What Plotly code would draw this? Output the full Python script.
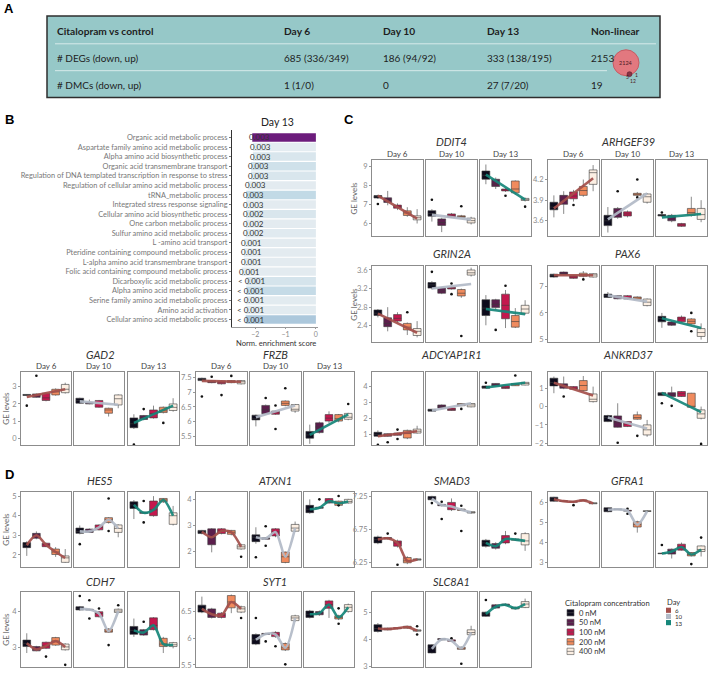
import plotly.graph_objects as go

W, H = 708, 674

# ---------------- panel A: summary table ----------------
TABLE_HEADER = ["Citalopram vs control", "Day 6", "Day 10", "Day 13", "Non-linear"]
TABLE_DEGS = ["# DEGs (down, up)", "685 (336/349)", "186 (94/92)", "333 (138/195)", "2153"]
TABLE_DMCS = ["# DMCs (down, up)", "1 (1/0)", "0", "27 (7/20)", "19"]
VENN_LABELS = ["2124", "5", "1", "12"]

# ---------------- panel B: GO enrichment, day 13 ----------------
GO_TERMS = [
    "Organic acid metabolic process",
    "Aspartate family amino acid metabolic process",
    "Alpha amino acid biosynthetic process",
    "Organic acid transmembrane transport",
    "Regulation of DNA templated transcription in response to stress",
    "Regulation of cellular amino acid metabolic process",
    "tRNA_metabolic process",
    "Integrated stress response signaling",
    "Cellular amino acid biosynthetic process",
    "One carbon metabolic process",
    "Sulfur amino acid metabolic process",
    "L -amino acid transport",
    "Pteridine containing compound metabolic process",
    "L-alpha amino acid transmembrane transport",
    "Folic acid containing compound metabolic process",
    "Dicarboxylic acid metabolic process",
    "Alpha amino acid metabolic process",
    "Serine family amino acid metabolic process",
    "Amino acid activation",
    "Cellular amino acid metabolic process",
]
NES = [-2.10, -2.08, -2.08, -2.14, -2.14, -2.25, -2.30, -2.30, -2.30, -2.32,
       -2.32, -2.36, -2.38, -2.38, -2.45, -2.29, -2.30, -2.32, -2.32, -2.32]
PADJ = ["0.003"] * 8 + ["0.002"] * 3 + ["0.001"] * 4 + ["&lt; 0.001"] * 5
TERM_SCORE = [1.0, 0.03, 0.12, 0.2, 0.12, 0.04, 0.3, 0.04, 0.12, 0.04,
              0.06, 0.04, 0.04, 0.04, 0.04, 0.15, 0.28, 0.05, 0.05, 0.42]

# ---------------- panels C / D: gene expression boxes ----------------
CONCS = ["0 nM", "50 nM", "100 nM", "200 nM", "400 nM"]
DAYS = ["Day 6", "Day 10", "Day 13"]
DAY_KEYS = ["6", "10", "13"]

# each gene: day -> concentration -> [lower whisker, q1, median, q3, upper whisker]
DDIT4 = [
    [[7.28, 7.33, 7.40, 7.46, 7.50], [6.95, 7.10, 7.24, 7.34, 7.70], [6.70, 6.80, 6.88, 6.96, 7.05], [6.35, 6.42, 6.55, 6.66, 6.85], [6.00, 6.19, 6.30, 6.40, 6.75]],
    [[6.10, 6.38, 6.52, 6.67, 6.75], [5.55, 5.90, 6.05, 6.24, 6.30], [6.30, 6.33, 6.43, 6.50, 6.55], [6.30, 6.32, 6.36, 6.40, 6.45], [5.95, 6.03, 6.15, 6.28, 6.35]],
    [[8.05, 8.31, 8.52, 8.74, 9.08], [7.80, 7.93, 8.05, 8.31, 8.40], [7.65, 7.70, 7.76, 7.80, 7.85], [7.50, 7.60, 7.80, 8.22, 8.25], [7.15, 7.20, 7.27, 7.31, 7.35]],
]
DDIT4_OUT = [(0, 0, 7.02), (1, 0, 7.24), (1, 3, 6.90), (2, 2, 7.45), (2, 4, 6.88)]
DDIT4_FIT = [[7.45, 6.25], [6.45, 6.20], [8.55, 7.25]]

ARHGEF39 = [
    [[3.65, 3.76, 3.80, 3.87, 3.97], [3.70, 3.84, 3.90, 3.97, 4.03], [3.88, 3.92, 3.96, 4.02, 4.05], [3.95, 3.97, 4.04, 4.10, 4.20], [4.03, 4.13, 4.30, 4.34, 4.41]],
    [[3.43, 3.53, 3.60, 3.68, 3.80], [3.63, 3.65, 3.73, 3.78, 3.80], [3.65, 3.67, 3.70, 3.73, 3.75], [3.96, 3.97, 3.99, 4.00, 4.02], [3.85, 3.87, 3.95, 3.99, 4.00]],
    [[3.66, 3.67, 3.68, 3.69, 3.70], [3.58, 3.60, 3.65, 3.68, 3.70], [3.51, 3.52, 3.54, 3.56, 3.57], [3.66, 3.68, 3.72, 3.78, 3.95], [3.58, 3.62, 3.69, 3.78, 3.90]],
]
ARHGEF39_OUT = [(0, 2, 3.83), (1, 1, 4.03), (1, 3, 4.20), (1, 3, 3.94), (2, 0, 3.72)]
ARHGEF39_FIT = [[3.78, 4.22], [3.62, 4.00], [3.65, 3.70]]

GRIN2A = [
    [[2.58, 2.62, 2.67, 2.74, 2.76], [2.28, 2.38, 2.45, 2.57, 2.80], [2.45, 2.50, 2.56, 2.64, 2.69], [2.20, 2.31, 2.37, 2.45, 2.47], [2.15, 2.19, 2.28, 2.34, 2.50]],
    [[3.18, 3.21, 3.28, 3.33, 3.36], [3.08, 3.10, 3.15, 3.21, 3.23], [3.18, 3.19, 3.21, 3.23, 3.25], [3.00, 3.04, 3.10, 3.18, 3.20], [3.46, 3.49, 3.54, 3.60, 3.65]],
    [[2.41, 2.62, 2.78, 2.96, 3.06], [2.75, 2.79, 2.86, 2.96, 2.98], [2.35, 2.55, 2.84, 3.08, 3.17], [2.35, 2.37, 2.49, 2.62, 2.78], [2.64, 2.67, 2.76, 2.84, 2.95]],
]
GRIN2A_OUT = [(0, 3, 2.69), (1, 0, 3.56), (1, 2, 3.31), (1, 2, 3.08), (1, 3, 2.18), (2, 1, 2.31), (2, 2, 3.26)]
GRIN2A_FIT = [[2.66, 2.25], [3.20, 3.30], [2.76, 2.65]]

PAX6 = [
    [[7.35, 7.37, 7.43, 7.48, 7.50], [7.43, 7.45, 7.50, 7.56, 7.58], [7.30, 7.32, 7.37, 7.42, 7.44], [7.35, 7.40, 7.46, 7.52, 7.60], [7.35, 7.37, 7.45, 7.50, 7.52]],
    [[6.57, 6.59, 6.66, 6.72, 6.80], [6.52, 6.54, 6.60, 6.66, 6.68], [6.51, 6.53, 6.58, 6.66, 6.68], [6.50, 6.52, 6.57, 6.61, 6.63], [6.25, 6.28, 6.41, 6.53, 6.55]],
    [[5.43, 5.66, 5.78, 5.87, 6.00], [5.50, 5.53, 5.58, 5.65, 5.68], [5.64, 5.66, 5.77, 5.84, 5.90], [5.55, 5.58, 5.68, 5.77, 5.80], [4.98, 5.10, 5.25, 5.40, 5.60]],
]
PAX6_OUT = [(0, 3, 7.28), (2, 3, 6.00), (2, 3, 5.30)]
PAX6_FIT = [[7.44, 7.44], [6.67, 6.43], [5.80, 5.42]]

ADCYAP1R1 = [
    [[0.85, 0.88, 1.00, 1.13, 1.25], [0.85, 0.88, 0.92, 1.04, 1.06], [0.92, 0.94, 1.00, 1.08, 1.10], [0.70, 0.77, 1.05, 1.25, 1.30], [1.05, 1.08, 1.20, 1.33, 1.54]],
    [[2.44, 2.46, 2.52, 2.58, 2.60], [2.60, 2.65, 2.75, 2.85, 2.88], [2.48, 2.50, 2.55, 2.65, 2.67], [2.78, 2.80, 2.88, 2.94, 2.96], [2.70, 2.73, 2.85, 2.94, 2.97]],
    [[3.88, 3.90, 3.95, 4.04, 4.06], [4.02, 4.04, 4.10, 4.20, 4.22], [3.86, 3.88, 3.95, 4.06, 4.08], [4.04, 4.06, 4.15, 4.20, 4.22], [4.08, 4.10, 4.20, 4.27, 4.30]],
]
ADCYAP1R1_OUT = [(0, 0, 0.35), (0, 1, 0.50), (0, 2, 1.30), (0, 2, 0.71), (1, 3, 2.60), (2, 0, 4.25), (2, 3, 4.70)]
ADCYAP1R1_FIT = [[0.88, 1.20], [2.50, 2.95], [3.95, 4.25]]

ANKRD37 = [
    [[0.73, 1.13, 1.31, 1.55, 1.64], [0.95, 1.00, 1.10, 1.24, 1.64], [0.92, 0.95, 1.00, 1.09, 1.12], [0.85, 0.87, 1.15, 1.42, 1.67], [0.22, 0.27, 0.40, 0.69, 1.09]],
    [[-0.85, -0.82, -0.60, -0.49, -0.45], [-1.15, -1.13, -0.85, -0.51, 0.18], [-1.12, -1.09, -0.95, -0.82, -0.80], [-0.72, -0.69, -0.60, -0.45, -0.27], [-1.65, -1.55, -1.27, -1.00, -0.73]],
    [[0.58, 0.60, 0.70, 0.76, 0.80], [0.52, 0.55, 0.65, 0.76, 1.09], [0.52, 0.55, 0.70, 0.82, 0.85], [-0.06, -0.04, 0.00, 0.73, 0.75], [-0.70, -0.64, -0.40, -0.18, 0.00]],
]
ANKRD37_OUT = [(0, 1, 0.55), (1, 1, -1.98), (1, 3, -1.60), (2, 0, 0.18), (2, 1, 0.04), (2, 4, -2.04)]
ANKRD37_FIT = [[1.30, 0.60], [-0.60, -1.20], [0.75, -0.30]]

GAD2 = [
    [[2.47, 2.49, 2.52, 2.55, 2.57], [2.36, 2.38, 2.48, 2.58, 2.60], [2.15, 2.20, 2.35, 2.62, 2.65], [2.48, 2.52, 2.70, 2.85, 2.90], [2.60, 2.65, 2.85, 3.13, 3.23]],
    [[2.00, 2.04, 2.20, 2.33, 2.36], [1.98, 2.00, 2.04, 2.08, 2.25], [1.78, 1.81, 2.05, 2.20, 2.23], [1.27, 1.46, 1.65, 1.75, 1.78], [1.75, 1.94, 2.30, 2.52, 2.55]],
    [[0.55, 0.62, 0.85, 1.19, 1.40], [1.05, 1.10, 1.20, 1.33, 1.36], [1.15, 1.19, 1.45, 1.65, 1.90], [1.45, 1.50, 1.60, 1.81, 1.85], [1.55, 1.62, 1.80, 2.00, 2.33]],
]
GAD2_OUT = [(0, 0, 1.90), (0, 1, 3.63), (2, 0, -0.35), (2, 1, 1.70), (2, 3, 0.90)]
GAD2_FIT = [[2.40, 2.85], [2.15, 1.95], [0.90, 1.90]]

FRZB = [
    [[7.37, 7.39, 7.43, 7.47, 7.49], [7.30, 7.32, 7.36, 7.39, 7.41], [7.26, 7.28, 7.32, 7.38, 7.40], [7.30, 7.32, 7.36, 7.39, 7.41], [7.26, 7.28, 7.35, 7.39, 7.41]],
    [[5.84, 6.06, 6.10, 6.22, 6.24], [6.24, 6.27, 6.40, 6.55, 6.58], [6.23, 6.25, 6.30, 6.36, 6.38], [6.52, 6.55, 6.62, 6.70, 6.72], [6.30, 6.36, 6.42, 6.58, 6.60]],
    [[5.25, 5.44, 5.55, 5.67, 5.90], [5.60, 5.63, 5.82, 5.96, 6.00], [5.95, 6.02, 6.12, 6.24, 6.35], [5.98, 6.02, 6.10, 6.24, 6.26], [6.05, 6.08, 6.15, 6.28, 6.30]],
]
FRZB_OUT = [(0, 0, 6.85), (0, 1, 7.52), (0, 2, 6.90), (0, 3, 7.55), (1, 1, 6.80), (1, 2, 6.55), (1, 2, 5.75), (1, 3, 7.13), (2, 4, 6.60)]
FRZB_FIT = [[7.38, 7.35], [6.15, 6.55], [5.55, 6.25]]

HES5 = [
    [[1.95, 2.37, 2.50, 2.63, 2.70], [2.80, 2.85, 3.00, 3.10, 3.20], [2.40, 2.42, 2.52, 2.60, 2.62], [1.90, 2.02, 2.15, 2.30, 2.40], [1.60, 1.62, 1.85, 1.95, 2.30]],
    [[3.05, 3.10, 3.20, 3.37, 3.50], [3.12, 3.15, 3.20, 3.32, 3.35], [3.25, 3.28, 3.40, 3.53, 3.56], [3.60, 3.65, 3.80, 3.90, 3.93], [2.90, 3.15, 3.35, 3.53, 3.56]],
    [[3.83, 4.37, 4.55, 4.71, 4.80], [4.10, 4.12, 4.15, 4.18, 4.20], [3.95, 4.00, 4.30, 4.75, 5.00], [4.65, 4.71, 4.80, 4.88, 4.90], [3.50, 3.56, 4.00, 4.15, 4.50]],
]
HES5_OUT = [(1, 0, 2.55), (1, 3, 4.88), (1, 3, 3.22), (2, 1, 4.75), (2, 1, 3.66)]

ATXN1 = [
    [[2.66, 2.69, 2.76, 2.81, 2.83], [1.97, 2.26, 2.55, 2.87, 2.90], [2.66, 2.69, 2.79, 2.87, 2.90], [2.62, 2.66, 2.74, 2.81, 2.83], [2.07, 2.10, 2.18, 2.26, 2.30]],
    [[2.30, 2.38, 2.55, 2.64, 2.93], [2.45, 2.47, 2.50, 2.53, 2.55], [2.55, 2.60, 2.75, 2.87, 2.90], [1.55, 1.58, 1.80, 1.98, 2.00], [2.75, 2.78, 2.90, 3.04, 3.15]],
    [[3.45, 3.49, 3.62, 3.77, 4.00], [3.65, 3.66, 3.68, 3.70, 3.72], [3.84, 3.86, 3.93, 4.03, 4.05], [3.75, 3.77, 3.85, 3.93, 3.95], [3.84, 3.86, 3.92, 4.00, 4.02]],
]
ATXN1_OUT = [(0, 4, 1.80), (1, 0, 1.78), (1, 1, 2.97), (1, 1, 2.22), (2, 1, 4.00), (2, 3, 4.13), (2, 3, 3.77)]

SMAD3 = [
    [[6.53, 6.55, 6.60, 6.64, 6.66], [6.60, 6.61, 6.62, 6.63, 6.64], [6.48, 6.50, 6.55, 6.58, 6.60], [6.23, 6.25, 6.28, 6.33, 6.35], [6.28, 6.29, 6.30, 6.31, 6.32]],
    [[7.19, 7.20, 7.22, 7.25, 7.26], [7.10, 7.11, 7.12, 7.13, 7.14], [7.03, 7.05, 7.10, 7.16, 7.22], [7.03, 7.04, 7.05, 7.06, 7.07], [6.99, 7.00, 7.01, 7.02, 7.03]],
    [[6.48, 6.50, 6.55, 6.59, 6.61], [6.45, 6.47, 6.50, 6.54, 6.56], [6.53, 6.55, 6.61, 6.66, 6.73], [6.58, 6.59, 6.60, 6.61, 6.62], [6.43, 6.52, 6.58, 6.69, 6.71]],
]
SMAD3_OUT = [(0, 1, 6.69), (0, 2, 6.22), (1, 0, 7.15), (1, 1, 7.17), (1, 1, 6.91), (1, 3, 7.11), (1, 3, 6.73), (2, 3, 6.69)]

GFRA1 = [
    [[6.05, 6.08, 6.18, 6.28, 6.30], [6.05, 6.06, 6.08, 6.10, 6.12], [6.02, 6.03, 6.05, 6.07, 6.09], [6.09, 6.10, 6.12, 6.14, 6.15], [5.94, 5.95, 5.97, 6.00, 6.02]],
    [[5.52, 5.55, 5.65, 5.75, 5.77], [5.64, 5.65, 5.67, 5.69, 5.70], [5.57, 5.58, 5.60, 5.62, 5.64], [4.50, 4.78, 4.90, 5.05, 5.10], [5.55, 5.56, 5.58, 5.60, 5.62]],
    [[3.43, 3.44, 3.45, 3.47, 3.48], [3.20, 3.42, 3.55, 3.67, 3.70], [3.60, 3.62, 3.78, 3.92, 4.00], [3.30, 3.33, 3.40, 3.50, 3.52], [3.30, 3.55, 3.65, 3.83, 3.85]],
]
GFRA1_OUT = [(0, 2, 5.88), (1, 2, 5.45), (1, 2, 5.70), (2, 0, 3.88), (2, 3, 2.92), (2, 4, 4.25)]

CDH7 = [
    [[2.85, 3.03, 3.12, 3.21, 3.40], [2.90, 2.91, 2.95, 3.03, 3.05], [2.96, 2.98, 3.05, 3.15, 3.17], [3.05, 3.07, 3.18, 3.28, 3.30], [2.92, 2.94, 3.02, 3.10, 3.12]],
    [[4.03, 4.05, 4.08, 4.14, 4.16], [4.04, 4.05, 4.06, 4.07, 4.08], [3.84, 3.86, 3.95, 4.00, 4.02], [3.41, 3.43, 3.46, 3.52, 3.54], [3.96, 3.98, 4.02, 4.07, 4.09]],
    [[3.30, 3.37, 3.48, 3.59, 3.81], [3.33, 3.35, 3.42, 3.50, 3.52], [3.48, 3.50, 3.62, 3.83, 3.85], [2.85, 3.03, 3.10, 3.26, 3.30], [2.98, 3.03, 3.08, 3.14, 3.16]],
]
CDH7_OUT = [(0, 2, 2.75), (0, 4, 2.52), (1, 0, 4.44), (1, 1, 4.32), (1, 1, 3.81), (1, 2, 4.09), (1, 3, 3.07), (1, 4, 4.18), (2, 1, 3.72)]

SYT1 = [
    [[6.47, 6.49, 6.55, 6.62, 6.78], [6.37, 6.39, 6.45, 6.55, 6.57], [6.37, 6.39, 6.43, 6.47, 6.49], [6.47, 6.57, 6.68, 6.80, 6.82], [6.47, 6.49, 6.55, 6.59, 6.61]],
    [[5.87, 5.89, 5.97, 6.07, 6.09], [6.06, 6.07, 6.08, 6.09, 6.10], [6.01, 6.03, 6.07, 6.11, 6.13], [5.76, 5.78, 5.82, 5.90, 5.92], [6.31, 6.33, 6.38, 6.42, 6.44]],
    [[6.37, 6.39, 6.45, 6.51, 6.53], [6.42, 6.44, 6.47, 6.50, 6.52], [6.38, 6.56, 6.63, 6.70, 6.72], [6.34, 6.36, 6.39, 6.42, 6.44], [6.48, 6.50, 6.58, 6.63, 6.65]],
]
SYT1_OUT = [(0, 4, 6.38), (1, 0, 6.38), (1, 1, 5.94), (1, 2, 5.85), (1, 3, 5.51), (2, 3, 6.56), (2, 3, 6.27)]

SLC8A1 = [
    [[4.25, 4.29, 4.40, 4.54, 4.60], [4.33, 4.35, 4.38, 4.41, 4.43], [4.37, 4.39, 4.41, 4.43, 4.45], [4.39, 4.41, 4.45, 4.48, 4.50], [4.28, 4.30, 4.32, 4.35, 4.37]],
    [[3.48, 3.50, 3.65, 3.80, 3.82], [3.96, 3.98, 4.00, 4.03, 4.05], [3.91, 3.93, 3.95, 3.98, 4.00], [3.61, 3.63, 3.67, 3.71, 3.73], [4.15, 4.17, 4.25, 4.35, 4.50]],
    [[4.83, 4.85, 4.93, 5.00, 5.02], [5.13, 5.15, 5.20, 5.27, 5.30], [5.24, 5.25, 5.27, 5.30, 5.32], [5.10, 5.12, 5.15, 5.18, 5.20], [5.15, 5.17, 5.30, 5.39, 5.50]],
]
SLC8A1_OUT = [(0, 4, 4.48), (0, 4, 4.18), (1, 2, 4.04), (1, 3, 3.10), (2, 0, 5.45)]

# y axis range / ticks per gene (layout only)
Y_AXES = {
    "DDIT4": ([5.35, 9.3], [6, 7, 8, 9]),
    "ARHGEF39": ([3.38, 4.48], [3.6, 3.9, 4.2]),
    "GRIN2A": ([2.04, 3.69], [2.4, 2.8, 3.2, 3.6]),
    "PAX6": ([4.87, 7.8], [5, 6, 7]),
    "ADCYAP1R1": ([0.33, 4.9], [1, 2, 3, 4]),
    "ANKRD37": ([-2.1, 1.87], [-2, -1, 0, 1]),
    "GAD2": ([-0.38, 3.83], [0, 1, 2, 3]),
    "FRZB": ([5.21, 7.67], [5.5, 6, 6.5, 7, 7.5]),
    "HES5": ([1.36, 5.22], [2, 3, 4, 5]),
    "ATXN1": ([1.39, 4.29], [2, 3, 4]),
    "SMAD3": ([6.18, 7.32], [6.25, 6.75, 7.25]),
    "GFRA1": ([2.75, 6.55], [3, 4, 5, 6]),
    "CDH7": ([2.46, 4.54], [3, 4]),
    "SYT1": ([5.46, 6.86], [5.5, 6, 6.5]),
    "SLC8A1": ([2.98, 5.73], [3, 4, 5]),
}

# name, boxes, outliers, linear fit (None -> smooth curve), column, row, day strips, y title
GENE_PANELS = [
    ("DDIT4", DDIT4, DDIT4_OUT, DDIT4_FIT, 2, "c1", True, True),
    ("ARHGEF39", ARHGEF39, ARHGEF39_OUT, ARHGEF39_FIT, 3, "c1", True, False),
    ("GRIN2A", GRIN2A, GRIN2A_OUT, GRIN2A_FIT, 2, "c2", False, True),
    ("PAX6", PAX6, PAX6_OUT, PAX6_FIT, 3, "c2", False, False),
    ("GAD2", GAD2, GAD2_OUT, GAD2_FIT, 0, "r3", True, True),
    ("FRZB", FRZB, FRZB_OUT, FRZB_FIT, 1, "r3", True, False),
    ("ADCYAP1R1", ADCYAP1R1, ADCYAP1R1_OUT, ADCYAP1R1_FIT, 2, "r3", False, False),
    ("ANKRD37", ANKRD37, ANKRD37_OUT, ANKRD37_FIT, 3, "r3", False, False),
    ("HES5", HES5, HES5_OUT, None, 0, "d1", False, True),
    ("ATXN1", ATXN1, ATXN1_OUT, None, 1, "d1", False, False),
    ("SMAD3", SMAD3, SMAD3_OUT, None, 2, "d1", False, False),
    ("GFRA1", GFRA1, GFRA1_OUT, None, 3, "d1", False, False),
    ("CDH7", CDH7, CDH7_OUT, None, 0, "d2", False, True),
    ("SYT1", SYT1, SYT1_OUT, None, 1, "d2", False, False),
    ("SLC8A1", SLC8A1, SLC8A1_OUT, None, 2, "d2", False, False),
]

CONC_COLORS = ["#0d0b1c", "#5b1e4c", "#c4184e", "#f08b5e", "#fcefe3"]
DAY_COLORS = ["#a4504c", "#b2bac7", "#16877a"]
FONT = "Lato"

COLS = {0: [(21, 71), (74, 124), (128, 179)],
        1: [(196, 247), (250, 301), (304, 354)],
        2: [(372, 423), (426, 477), (480, 531)],
        3: [(548, 599), (602, 653), (656, 707)]}
ROWS = {"c1": (161, 237), "c2": (267, 344), "r3": (374, 447), "d1": (494, 570), "d2": (595, 670)}
TITLE_Y = {"c1": 142, "c2": 255, "r3": 356.5, "d1": 483, "d2": 584}


def P(x):
    return x / W


def Q(y):
    return 1 - y / H


def note(x, y, text, size, color="#333", family=FONT, xanchor="center", **kw):
    # paper-positioned text, given in pixels from the top-left corner
    return dict(x=P(x), y=Q(y), xref="paper", yref="paper", text=text, showarrow=False,
                xanchor=xanchor, yanchor="middle", font=dict(family=family, size=size, color=color), **kw)


fig = go.Figure()
axes = {}
ann = []
shapes = []

# ---------- panel A ----------
shapes.append(dict(type="rect", xref="paper", yref="paper", x0=P(47), x1=P(660), y0=Q(98), y1=Q(16),
                   fillcolor="#96c8c8", line=dict(color="#2e2e2e", width=1.5), layer="below"))
shapes.append(dict(type="line", xref="paper", yref="paper", x0=P(55), x1=P(656), y0=Q(44), y1=Q(44),
                   line=dict(color="#d6eaea", width=1)))
shapes.append(dict(type="line", xref="paper", yref="paper", x0=P(55), x1=P(607), y0=Q(71), y1=Q(71),
                   line=dict(color="#d6eaea", width=1)))
col_x = [55, 282, 381, 485, 589]
for row, yy, bold in [(TABLE_HEADER, 31, True), (TABLE_DEGS, 58, False), (TABLE_DMCS, 85, False)]:
    for txt, xx in zip(row, col_x):
        ann.append(note(xx, yy, f"<b>{txt}</b>" if bold else txt, 10.2 if bold else 10, "#1e1e1e",
                        xanchor="left"))
shapes.append(dict(type="circle", xref="paper", yref="paper", x0=P(613), x1=P(639), y0=Q(76), y1=Q(50),
                   fillcolor="#e2787f", line=dict(color="#c65b63", width=1)))
shapes.append(dict(type="circle", xref="paper", yref="paper", x0=P(627), x1=P(632), y0=Q(77), y1=Q(72),
                   fillcolor="#8a3344", line=dict(color="#5a2030", width=0.6)))
for txt, xx, yy in zip(VENN_LABELS, [626, 627, 636, 633], [63, 77, 75, 81]):
    ann.append(note(xx, yy, txt, 5.5 if txt == "2124" else 5, "#4a1a22"))

# ---------- panel B ----------
fig.add_trace(go.Bar(x=NES, y=GO_TERMS, orientation="h", width=0.88, hoverinfo="skip", showlegend=False,
                     marker=dict(color=TERM_SCORE, cmin=0, cmax=1, line=dict(width=0),
                                 colorscale=[[0, "#e8eef2"], [0.3, "#c2dae6"], [0.45, "#a6c4da"],
                                             [0.75, "#8a6ea8"], [1, "#6c1c7c"]])))
axes["xaxis"] = dict(domain=[P(232), P(318)], range=[-2.77, 0.07], tickvals=[-2, -1, 0], ticks="outside",
                     ticklen=1, tickcolor="#999", tickfont=dict(family=FONT, size=7, color="#8a8a8a"),
                     showline=True, linecolor="#9a9a9a", linewidth=1, showgrid=False, zeroline=False,
                     anchor="y", fixedrange=True)
axes["yaxis"] = dict(domain=[Q(328), Q(131)], autorange="reversed", tickmode="array", tickvals=GO_TERMS,
                     ticks="outside", ticklen=2, tickcolor="#777",
                     tickfont=dict(family=FONT, size=7.4, color="#777"), showline=True, linecolor="#333",
                     linewidth=1, showgrid=False, zeroline=False, anchor="x", fixedrange=True)
for term, v, lab in zip(GO_TERMS, NES, PADJ):
    ann.append(dict(x=v, y=term, xref="x", yref="y", text=lab, showarrow=False, xanchor="right",
                    yanchor="middle", xshift=20, font=dict(family=FONT, size=8, color="#333")))
ann.append(note(277, 123, "Day 13", 10.5, "#222"))
ann.append(note(276, 344.5, "Norm. enrichment score", 7.6, "#333"))

# ---------- panels C / D ----------
k = 2
for name, boxes, outs, fit, col, row, strips, ytitle in GENE_PANELS:
    y0, y1 = ROWS[row]
    yr, yt = Y_AXES[name]
    for d in range(3):
        x0, x1 = COLS[col][d]
        xa, ya = f"x{k}", f"y{k}"
        for ci in range(5):
            lo, q1, med, q3, hi = boxes[d][ci]
            fig.add_trace(go.Box(x=[ci], q1=[q1], median=[med], q3=[q3], lowerfence=[lo], upperfence=[hi],
                                 fillcolor=CONC_COLORS[ci], line=dict(color="#3a3a3a", width=0.6),
                                 width=0.8, whiskerwidth=0, boxpoints=False, xaxis=xa, yaxis=ya,
                                 showlegend=False, hoverinfo="skip"))
        ox = [o[1] for o in outs if o[0] == d]
        oy = [o[2] for o in outs if o[0] == d]
        if ox:
            fig.add_trace(go.Scatter(x=ox, y=oy, mode="markers", marker=dict(size=2.6, color="#111"),
                                     xaxis=xa, yaxis=ya, showlegend=False, hoverinfo="skip"))
        if fit is not None:
            fig.add_trace(go.Scatter(x=[0, 4], y=fit[d], mode="lines", opacity=0.92,
                                     line=dict(color=DAY_COLORS[d], width=2.6),
                                     xaxis=xa, yaxis=ya, showlegend=False, hoverinfo="skip"))
        else:
            fig.add_trace(go.Scatter(x=list(range(5)), y=[b[2] for b in boxes[d]], mode="lines", opacity=0.92,
                                     line=dict(color=DAY_COLORS[d], width=2.6, shape="spline", smoothing=0.8),
                                     xaxis=xa, yaxis=ya, showlegend=False, hoverinfo="skip"))
        axes[f"xaxis{k}"] = dict(domain=[P(x0), P(x1)], range=[-0.6, 4.6], anchor=ya, showticklabels=False,
                                 ticks="", showgrid=False, zeroline=False, showline=True, mirror=True,
                                 linecolor="#8c8c8c", linewidth=1, fixedrange=True)
        axes[f"yaxis{k}"] = dict(domain=[Q(y1), Q(y0)], range=yr, anchor=xa, tickvals=yt,
                                 showticklabels=(d == 0), ticks="outside" if d == 0 else "", ticklen=2,
                                 tickcolor="#999", tickfont=dict(family=FONT, size=7.5, color="#8a8a8a"),
                                 showgrid=False, zeroline=False, showline=True, mirror=True,
                                 linecolor="#8c8c8c", linewidth=1, fixedrange=True)
        if strips:
            ann.append(note((x0 + x1) / 2, y0 - 6.5, DAYS[d], 8, "#444"))
        k += 1
    gx0, gx1 = COLS[col][0][0], COLS[col][2][1]
    ann.append(note((gx0 + gx1) / 2, TITLE_Y[row], f"<i>{name}</i>", 11, "#333"))
    if ytitle:
        ann.append(note(gx0 - (17.5 if col == 2 else 15), (y0 + y1) / 2, "GE levels", 8, "#666",
                        textangle=-90))

# ---------- legend (drawn by hand) ----------
ann.append(note(563, 606, "Citalopram concentration", 7.6, xanchor="left"))
for i, (c, lab) in enumerate(zip(CONC_COLORS, CONCS)):
    yy = 615.5 + i * 9.7
    shapes.append(dict(type="rect", xref="paper", yref="paper", x0=P(567), x1=P(574), y0=Q(yy + 3.2),
                       y1=Q(yy - 3.2), fillcolor=c, line=dict(color="#555", width=0.6)))
    shapes.append(dict(type="line", xref="paper", yref="paper", x0=P(567), x1=P(574), y0=Q(yy), y1=Q(yy),
                       line=dict(color="#555", width=0.6)))
    ann.append(note(577, yy, lab, 7.6, xanchor="left"))
ann.append(note(665, 605, "Day", 7.6, xanchor="left"))
for i, (c, lab) in enumerate(zip(DAY_COLORS, DAY_KEYS)):
    yy = 613 + i * 6.2
    shapes.append(dict(type="rect", xref="paper", yref="paper", x0=P(666), x1=P(671), y0=Q(yy + 2.6),
                       y1=Q(yy - 2.6), fillcolor=c, line=dict(width=0)))
    ann.append(note(672.5, yy, lab, 6.2, xanchor="left", height=6, valign="middle"))

# ---------- panel letters ----------
for lab, xx, yy in [("A", 9, 9), ("B", 9, 120), ("C", 349, 120), ("D", 9, 477)]:
    ann.append(note(xx, yy, f"<b>{lab}</b>", 13, "#000", family="Liberation Sans"))

fig.update_layout(width=W, height=H, margin=dict(l=0, r=0, t=0, b=0), paper_bgcolor="white",
                  plot_bgcolor="white", boxmode="overlay", showlegend=False, annotations=ann, shapes=shapes,
                  font=dict(family=FONT), **axes)

# the page's default body margin would push the 708x674 figure off the window
fig.write_html("out.html", config={"displayModeBar": False},
               post_script="document.body.style.margin='0px';")
